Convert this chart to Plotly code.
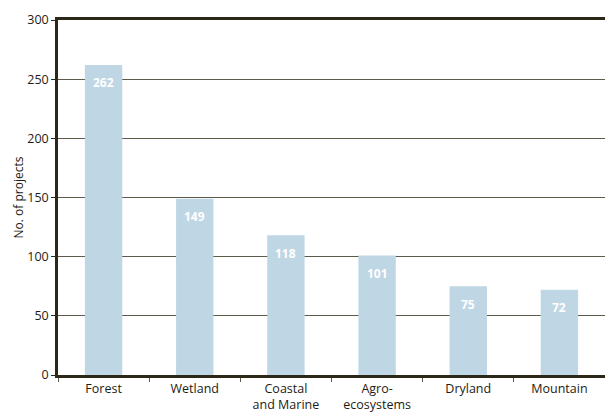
import plotly.graph_objects as go

categories = ["Forest", "Wetland", "Coastal<br>and Marine", "Agro-<br>ecosystems", "Dryland", "Mountain"]
values = [262, 149, 118, 101, 75, 72]
y_ticks = [0, 50, 100, 150, 200, 250, 300]

bar_color = "#bfd6e4"
axis_color = "#2c2818"
grid_color = "#5e5a4a"
text_color = "#1f1b14"
font_family = "Open Sans, Noto Sans, sans-serif"

fig = go.Figure()
fig.add_trace(go.Bar(
    x=categories, y=values, marker=dict(color=bar_color, line=dict(width=0)),
    width=0.41, hoverinfo="skip",
))
for c, v in zip(categories, values):
    fig.add_annotation(x=c, y=v, text=f"<b>{v}</b>", showarrow=False, yshift=-18,
                       font=dict(color="white", size=12, family=font_family))

fig.update_layout(
    width=605, height=413,
    margin=dict(l=58, r=0, t=20, b=38),
    plot_bgcolor="white", paper_bgcolor="white",
    showlegend=False,
    font=dict(family=font_family, size=12.5, color=text_color),
    xaxis=dict(
        showline=True, linecolor=axis_color, linewidth=2.5, mirror=True,
        ticks="outside", tickson="boundaries", ticklen=4, tickcolor=grid_color, tickwidth=1,
        tickfont=dict(size=12.5, family=font_family, color=text_color),
        showgrid=False,
    ),
    yaxis=dict(
        range=[0, 300], tickvals=y_ticks,
        showline=True, linecolor=axis_color, linewidth=2.5,
        ticks="outside", ticklen=4, tickcolor=axis_color, tickwidth=1,
        showgrid=True, gridcolor=grid_color, gridwidth=1,
        zeroline=False,
        tickfont=dict(size=12.5, family=font_family, color=text_color),
        title=dict(text="No. of projects", font=dict(size=12, family=font_family, color=text_color), standoff=2),
    ),
)

fig.write_html("out.html")
